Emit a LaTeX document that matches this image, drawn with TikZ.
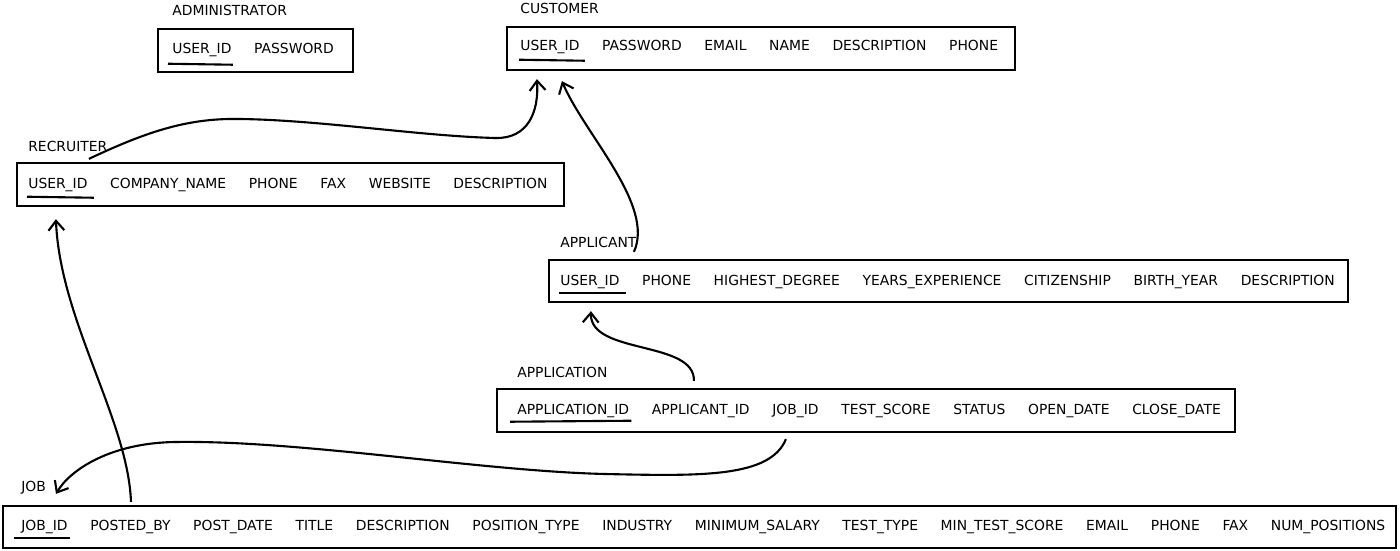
\documentclass[tikz,border=0pt]{standalone}
\usepackage{fontspec}
\setmainfont{DejaVu Sans}
\usetikzlibrary{arrows.meta,calc,positioning}
\tikzset{
    %Define standard arrow tip
    >={Straight Barb[length=5.5pt,width=9pt]},
    %Define style for table boxes
    tbl/.style={
           rectangle,
           draw=black, line width=1.3pt,
           inner sep=0pt},
    %Define style for table names
    tname/.style={
           anchor=west,
           inner sep=0pt,
           font=\fontsize{7.9}{9}\selectfont},
    %Define style for columns
    fld/.style={
           inner sep=0pt,
           text height=6.4pt,
           text depth=2pt,
           font=\fontsize{7.9}{9}\selectfont},
    % key underline and foreign key arrow
    key/.style={line width=1.2pt},
    fk/.style={->, line width=1.2pt}
}
\begin{document}
\begin{tikzpicture}[x=0.02cm,y=-0.02cm,node distance=0.44cm]
\useasboundingbox (0,0) rectangle (1400,551);
% tables
\node[tbl, minimum width=3.9cm, minimum height=0.86cm](admin) at (255.5,50.5){};
\node[tbl, minimum width=10.16cm, minimum height=0.86cm](cust) at (761,48.5){};
\node[tbl, minimum width=10.94cm, minimum height=0.86cm](recr) at (290.5,184.5){};
\node[tbl, minimum width=15.98cm, minimum height=0.84cm](appl) at (948.5,281){};
\node[tbl, minimum width=14.76cm, minimum height=0.86cm](appn) at (866,410.5){};
\node[tbl, minimum width=27.86cm, minimum height=0.84cm](job) at (699.5,527){};
% names
\node[tname](adminname) at (172,10){ADMINISTRATOR};
\node[tname](custname) at (520,8){CUSTOMER};
\node[tname](recrname) at (28,146){RECRUITER};
\node[tname](applname) at (560,242){APPLICANT};
\node[tname](appnname) at (517,372){APPLICATION};
\node[tname](jobname) at (21,488){JOB};
% ADMINISTRATOR
\node[fld, anchor=west](a1) at (172,50){USER\_ID};
\node[fld, right=of a1](a2){PASSWORD};
% CUSTOMER
\node[fld, anchor=west](c1) at (520,47){USER\_ID};
\node[fld, right=of c1](c2){PASSWORD};
\node[fld, right=of c2](c3){EMAIL};
\node[fld, right=of c3](c4){NAME};
\node[fld, right=of c4](c5){DESCRIPTION};
\node[fld, right=of c5](c6){PHONE};
% RECRUITER
\node[fld, anchor=west](r1) at (28,185){USER\_ID};
\node[fld, right=of r1](r2){COMPANY\_NAME};
\node[fld, right=of r2](r3){PHONE};
\node[fld, right=of r3](r4){FAX};
\node[fld, right=of r4](r5){WEBSITE};
\node[fld, right=of r5](r6){DESCRIPTION};
% APPLICANT
\node[fld, anchor=west](p1) at (560,282){USER\_ID};
\node[fld, right=of p1](p2){PHONE};
\node[fld, right=of p2](p3){HIGHEST\_DEGREE};
\node[fld, right=of p3](p4){YEARS\_EXPERIENCE};
\node[fld, right=of p4](p5){CITIZENSHIP};
\node[fld, right=of p5](p6){BIRTH\_YEAR};
\node[fld, right=of p6](p7){DESCRIPTION};
% APPLICATION
\node[fld, anchor=west](n1) at (517,411){APPLICATION\_ID};
\node[fld, right=of n1](n2){APPLICANT\_ID};
\node[fld, right=of n2](n3){JOB\_ID};
\node[fld, right=of n3](n4){TEST\_SCORE};
\node[fld, right=of n4](n5){STATUS};
\node[fld, right=of n5](n6){OPEN\_DATE};
\node[fld, right=of n6](n7){CLOSE\_DATE};
% JOB
\node[fld, anchor=west](j1) at (21,527){JOB\_ID};
\node[fld, right=of j1](j2){POSTED\_BY};
\node[fld, right=of j2](j3){POST\_DATE};
\node[fld, right=of j3](j4){TITLE};
\node[fld, right=of j4](j5){DESCRIPTION};
\node[fld, right=of j5](j6){POSITION\_TYPE};
\node[fld, right=of j6](j7){INDUSTRY};
\node[fld, right=of j7](j8){MINIMUM\_SALARY};
\node[fld, right=of j8](j9){TEST\_TYPE};
\node[fld, right=of j9](j10){MIN\_TEST\_SCORE};
\node[fld, right=of j10](j11){EMAIL};
\node[fld, right=of j11](j12){PHONE};
\node[fld, right=of j12](j13){FAX};
\node[fld, right=of j13](j14){NUM\_POSITIONS};
% keys
\draw[key] ([shift={(-4,6)}]a1.south west) -- ([shift={(1,7)}]a1.south east);
\draw[key] ([shift={(-1,5)}]c1.south west) -- ([shift={(5,6)}]c1.south east);
\draw[key] ([shift={(-1,4)}]r1.south west) -- ([shift={(6,5)}]r1.south east);
\draw[key] ([shift={(-1,3)}]p1.south west) -- ([shift={(6,3)}]p1.south east);
\draw[key] ([shift={(-7,3)}]n1.south west) -- ([shift={(2,2)}]n1.south east);
\draw[key] ([shift={(-7,3)}]j1.south west) -- ([shift={(2,3)}]j1.south east);
% references
\draw[fk] ($(recr.north west)+(73,-3)$) .. controls (150,130) and (190,118) .. (240,119)
      .. controls (320,120) and (420,136) .. (495,138)
      .. controls (528,139) and (539,112) .. ($(cust.south west)+(31,8)$);
\draw[fk] ($(appl.north west)+(86,-7)$) .. controls (655,205) and (585,135) .. ($(cust.south west)+(56,10)$);
\draw[fk] ($(appn.north west)+(198,-7)$) .. controls (695,340) and (590,355) .. ($(appl.south west)+(43,8)$);
\draw[fk] ($(job.north west)+(129,-3)$) .. controls (128,420) and (60,320) .. ($(recr.south west)+(40,12)$);
\draw[fk] ($(appn.south west)+(290,6)$) .. controls (770,478) and (700,476) .. (605,474)
      .. controls (480,471) and (300,440) .. (175,442)
      .. controls (110,443) and (70,470) .. ($(job.north west)+(54,-11)$);
\end{tikzpicture}
\end{document}
